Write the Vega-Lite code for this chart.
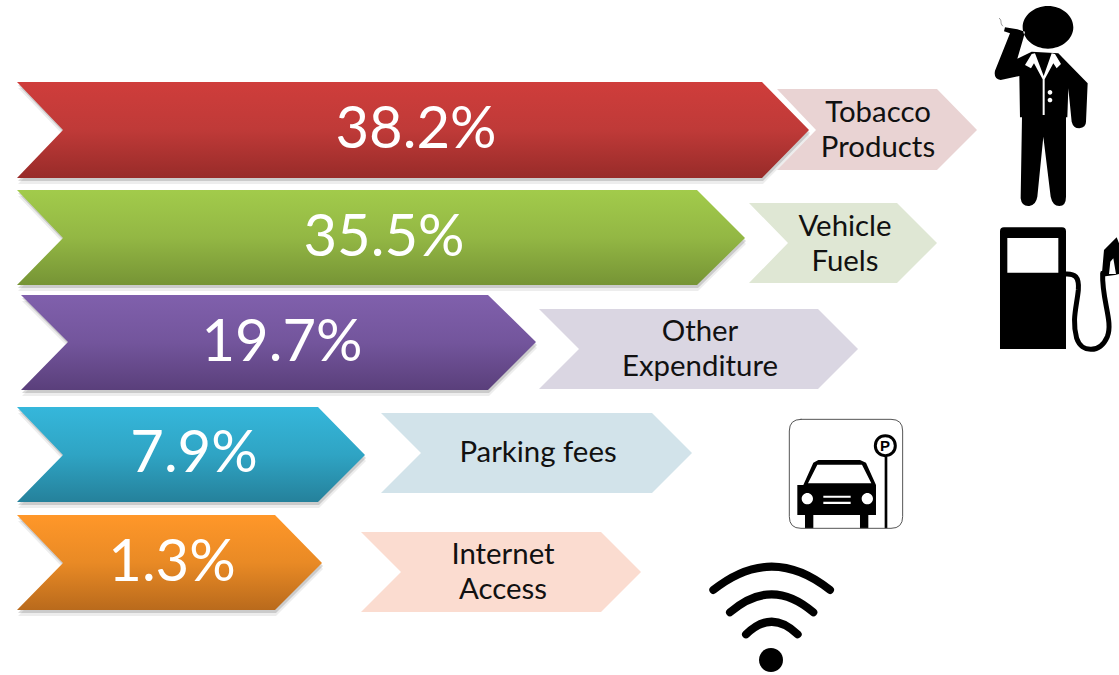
{"$schema":"https://vega.github.io/schema/vega-lite/v6.json","width":1119,"height":675,"padding":0,"autosize":{"type":"fit","contains":"padding"},"background":"white","config":{"view":{"stroke":null}},
"datasets":{"arrows":[
{"s":"red","k":"main","v":1,"x":17,"y":82},{"s":"red","k":"main","v":2,"x":762,"y":82},{"s":"red","k":"main","v":3,"x":809,"y":130},{"s":"red","k":"main","v":4,"x":762,"y":178},{"s":"red","k":"main","v":5,"x":17,"y":178},{"s":"red","k":"main","v":6,"x":63,"y":130},
{"s":"green","k":"main","v":1,"x":17,"y":190},{"s":"green","k":"main","v":2,"x":697,"y":190},{"s":"green","k":"main","v":3,"x":745,"y":238},{"s":"green","k":"main","v":4,"x":697,"y":285},{"s":"green","k":"main","v":5,"x":17,"y":285},{"s":"green","k":"main","v":6,"x":63,"y":238},
{"s":"purple","k":"main","v":1,"x":21,"y":295},{"s":"purple","k":"main","v":2,"x":488,"y":295},{"s":"purple","k":"main","v":3,"x":536,"y":342},{"s":"purple","k":"main","v":4,"x":488,"y":390},{"s":"purple","k":"main","v":5,"x":21,"y":390},{"s":"purple","k":"main","v":6,"x":68,"y":342},
{"s":"blue","k":"main","v":1,"x":17,"y":407},{"s":"blue","k":"main","v":2,"x":318,"y":407},{"s":"blue","k":"main","v":3,"x":365,"y":455},{"s":"blue","k":"main","v":4,"x":318,"y":502},{"s":"blue","k":"main","v":5,"x":17,"y":502},{"s":"blue","k":"main","v":6,"x":63,"y":455},
{"s":"orange","k":"main","v":1,"x":17,"y":515},{"s":"orange","k":"main","v":2,"x":275,"y":515},{"s":"orange","k":"main","v":3,"x":322,"y":563},{"s":"orange","k":"main","v":4,"x":275,"y":610},{"s":"orange","k":"main","v":5,"x":17,"y":610},{"s":"orange","k":"main","v":6,"x":63,"y":563},
{"s":"red","k":"light","v":1,"x":777,"y":89},{"s":"red","k":"light","v":2,"x":937,"y":89},{"s":"red","k":"light","v":3,"x":977,"y":130},{"s":"red","k":"light","v":4,"x":937,"y":170},{"s":"red","k":"light","v":5,"x":777,"y":170},{"s":"red","k":"light","v":6,"x":816,"y":130},
{"s":"green","k":"light","v":1,"x":749,"y":203},{"s":"green","k":"light","v":2,"x":897,"y":203},{"s":"green","k":"light","v":3,"x":937,"y":243},{"s":"green","k":"light","v":4,"x":897,"y":283},{"s":"green","k":"light","v":5,"x":749,"y":283},{"s":"green","k":"light","v":6,"x":788,"y":243},
{"s":"purple","k":"light","v":1,"x":539,"y":309},{"s":"purple","k":"light","v":2,"x":818,"y":309},{"s":"purple","k":"light","v":3,"x":858,"y":349},{"s":"purple","k":"light","v":4,"x":818,"y":389},{"s":"purple","k":"light","v":5,"x":539,"y":389},{"s":"purple","k":"light","v":6,"x":579,"y":349},
{"s":"blue","k":"light","v":1,"x":381,"y":413},{"s":"blue","k":"light","v":2,"x":652,"y":413},{"s":"blue","k":"light","v":3,"x":692,"y":453},{"s":"blue","k":"light","v":4,"x":652,"y":493},{"s":"blue","k":"light","v":5,"x":381,"y":493},{"s":"blue","k":"light","v":6,"x":421,"y":453},
{"s":"orange","k":"light","v":1,"x":361,"y":532},{"s":"orange","k":"light","v":2,"x":601,"y":532},{"s":"orange","k":"light","v":3,"x":641,"y":572},{"s":"orange","k":"light","v":4,"x":601,"y":612},{"s":"orange","k":"light","v":5,"x":361,"y":612},{"s":"orange","k":"light","v":6,"x":401,"y":572}
]},
"encoding":{"x":{"field":"x","type":"quantitative","scale":{"domain":[0,1119],"nice":false,"zero":false},"axis":null},"y":{"field":"y","type":"quantitative","scale":{"domain":[0,675],"nice":false,"zero":false,"reverse":true},"axis":null}},
"resolve":{"scale":{"shape":"independent","fill":"independent","stroke":"independent","strokeWidth":"independent"}},
"layer":[
{"data":{"name":"arrows"},"transform":[{"filter":"datum.k==='light'"}],"mark":{"type":"line","strokeWidth":0,"clip":false},"encoding":{"order":{"field":"v","type":"quantitative"},"detail":{"field":"s"},"fill":{"field":"s","type":"nominal","legend":null,"scale":{"domain":["red","green","purple","blue","orange"],"range":["#E9D3D3","#DFE7D4","#DAD6E2","#D2E3EA","#FBDCD0"]}}}},
{"data":{"name":"arrows"},"transform":[{"filter":"datum.k==='main'"}],"mark":{"type":"line","strokeWidth":0,"fill":"#000000","fillOpacity":0.07,"yOffset":6,"xOffset":1},"encoding":{"order":{"field":"v","type":"quantitative"},"detail":{"field":"s"}}},
{"data":{"name":"arrows"},"transform":[{"filter":"datum.k==='main'"}],"mark":{"type":"line","strokeWidth":0,"fill":"#000000","fillOpacity":0.14,"yOffset":3,"xOffset":1},"encoding":{"order":{"field":"v","type":"quantitative"},"detail":{"field":"s"}}},
{"data":{"name":"arrows"},"transform":[{"filter":"datum.k==='main' && datum.s==='red'"}],"mark":{"type":"line","strokeWidth":0,"fill":{"gradient":"linear","x1":0,"y1":0,"x2":0,"y2":1,"stops":[{"offset":0,"color":"#CF3D3B"},{"offset":0.5,"color":"#BF3A38"},{"offset":1,"color":"#982B29"}]}},"encoding":{"order":{"field":"v","type":"quantitative"}}},
{"data":{"name":"arrows"},"transform":[{"filter":"datum.k==='main' && datum.s==='green'"}],"mark":{"type":"line","strokeWidth":0,"fill":{"gradient":"linear","x1":0,"y1":0,"x2":0,"y2":1,"stops":[{"offset":0,"color":"#A2CB4B"},{"offset":0.5,"color":"#93B744"},{"offset":1,"color":"#769435"}]}},"encoding":{"order":{"field":"v","type":"quantitative"}}},
{"data":{"name":"arrows"},"transform":[{"filter":"datum.k==='main' && datum.s==='purple'"}],"mark":{"type":"line","strokeWidth":0,"fill":{"gradient":"linear","x1":0,"y1":0,"x2":0,"y2":1,"stops":[{"offset":0,"color":"#8060AC"},{"offset":0.5,"color":"#73559C"},{"offset":1,"color":"#5A3F7B"}]}},"encoding":{"order":{"field":"v","type":"quantitative"}}},
{"data":{"name":"arrows"},"transform":[{"filter":"datum.k==='main' && datum.s==='blue'"}],"mark":{"type":"line","strokeWidth":0,"fill":{"gradient":"linear","x1":0,"y1":0,"x2":0,"y2":1,"stops":[{"offset":0,"color":"#35B7DB"},{"offset":0.5,"color":"#2FA4C4"},{"offset":1,"color":"#25819B"}]}},"encoding":{"order":{"field":"v","type":"quantitative"}}},
{"data":{"name":"arrows"},"transform":[{"filter":"datum.k==='main' && datum.s==='orange'"}],"mark":{"type":"line","strokeWidth":0,"fill":{"gradient":"linear","x1":0,"y1":0,"x2":0,"y2":1,"stops":[{"offset":0,"color":"#FF9729"},{"offset":0.5,"color":"#E98A25"},{"offset":1,"color":"#B96A1C"}]}},"encoding":{"order":{"field":"v","type":"quantitative"}}},
{"data":{"values":[{"t":"38.2%","x":416,"y":131},{"t":"35.5%","x":384,"y":239},{"t":"19.7%","x":282,"y":344},{"t":"7.9%","x":194,"y":455},{"t":"1.3%","x":172,"y":564}]},"mark":{"type":"text","font":"Lato","fontSize":58,"color":"white","align":"center","baseline":"middle"},"encoding":{"text":{"field":"t"}}},
{"data":{"values":[{"t":"Tobacco\nProducts","x":878,"y":113},{"t":"Vehicle\nFuels","x":845,"y":227},{"t":"Other\nExpenditure","x":700,"y":332},{"t":"Parking fees","x":538,"y":453},{"t":"Internet\nAccess","x":503,"y":555}]},"mark":{"type":"text","font":"Lato","fontSize":29.4,"color":"#111111","align":"center","baseline":"middle","lineBreak":"\n","lineHeight":34.5},"encoding":{"text":{"field":"t"}}},
{"data":{"values":[{"part":"man","ink":"dark","x":960,"y":0},{"part":"manDetail","ink":"light","x":960,"y":0},{"part":"pump","ink":"dark","x":960,"y":0},{"part":"pumpDetail","ink":"light","x":960,"y":0},{"part":"car","ink":"dark","x":690,"y":400},{"part":"carDetail","ink":"light","x":690,"y":400},{"part":"wifiDot","ink":"dark","x":690,"y":400}]},"mark":{"type":"point","filled":true,"size":0.4444,"opacity":1,"strokeWidth":0},"encoding":{
"fill":{"field":"ink","type":"nominal","legend":null,"scale":{"domain":["dark","light"],"range":["#000000","#ffffff"]}},
"shape":{"field":"part","type":"nominal","legend":null,"scale":{"domain":["man","manDetail","pump","pumpDetail","car","carDetail","wifiDot"],"range":[
"M188,82 C188,47 222,18 264,18 C306,18 340,47 340,82 C340,117 306,146 264,146 C222,146 188,117 188,82 Z M172,88 L135,82 L132,94 L150,100 L105,212 Q100,238 122,240 L178,228 L180,352 L186,352 L182,595 Q185,620 208,618 Q228,615 232,590 L250,410 L272,590 Q278,618 298,618 Q318,618 318,590 L318,352 L322,352 L325,265 L335,365 Q340,385 358,385 Q378,382 378,365 L383,250 L295,160 L215,155 L172,176 L190,115 L195,95 Z",
"M215,162 L195,195 L213,205 L222,190 L248,238 L248,345 L254,345 L254,238 L280,190 L290,205 L303,192 L285,162 L275,160 L251,228 L225,160 Z M263,277 C263,273 266,270 270,270 C274,270 277,273 277,277 C277,281 274,284 270,284 C266,284 263,281 263,277 Z M263,300 C263,296 266,293 270,293 C274,293 277,296 277,300 C277,304 274,307 270,307 C266,307 263,304 263,300 Z",
"M132,682 L306,682 Q318,682 318,694 L318,1047 L120,1047 L120,694 Q120,682 132,682 Z M425,830 L432,750 L470,712 L477,730 L477,822 L465,825 Z",
"M142,714 L295,714 L295,818 L142,818 Z M447,822 L451,785 L460,775 L468,822 Z",
"M340,255 L370,188 L385,180 L510,180 L528,188 L558,255 L558,345 L535,345 L535,385 L510,385 L510,345 L370,345 L370,385 L345,385 L345,345 L322,345 L322,255 Z M584,170 L592,170 L592,385 L584,385 Z",
"M354,250 L382,194 L516,194 L544,250 Z M335,296 C335,287 343,279 352,279 C361,279 369,287 369,296 C369,305 361,313 352,313 C343,313 335,305 335,296 Z M515,296 C515,287 523,279 532,279 C541,279 549,287 549,296 C549,305 541,313 532,313 C523,313 515,305 515,296 Z M400,287 L482,287 L482,293 L400,293 Z M400,305 L482,305 L482,312 L400,312 Z",
"M207,780 C207,760 223,744 243,744 C263,744 279,760 279,780 C279,800 263,816 243,816 C223,816 207,800 207,780 Z"
]}}}},
{"data":{"values":[{"part":"hose","x":960,"y":0},{"part":"smoke","x":960,"y":0},{"part":"frame","x":690,"y":400},{"part":"sign","x":690,"y":400},{"part":"arcOuter","x":690,"y":400},{"part":"arcMiddle","x":690,"y":400},{"part":"arcInner","x":690,"y":400}]},"mark":{"type":"point","filled":false,"size":0.4444,"opacity":1,"strokeCap":"round","strokeJoin":"round"},"encoding":{
"stroke":{"field":"part","type":"nominal","legend":null,"scale":{"domain":["hose","smoke","frame","sign","arcOuter","arcMiddle","arcInner"],"range":["#000000","#999999","#555555","#000000","#000000","#000000","#000000"]}},
"strokeWidth":{"field":"part","type":"nominal","legend":null,"scale":{"type":"ordinal","domain":["hose","smoke","frame","sign","arcOuter","arcMiddle","arcInner"],"range":[5,1,1,3,8,8,8]}},
"shape":{"field":"part","type":"nominal","legend":null,"scale":{"domain":["hose","smoke","frame","sign","arcOuter","arcMiddle","arcInner"],"range":[
"M315,822 C345,820 358,830 355,870 C350,920 335,960 350,1015 C365,1060 420,1060 442,1010 C460,965 425,900 428,820",
"M118,55 C128,62 118,68 128,78",
"M333,58 L603,58 Q638,58 638,93 L638,350 Q638,385 603,385 L333,385 Q298,385 298,350 L298,93 Q298,58 333,58 Z",
"M556,137 C556,120 569,107 586,107 C603,107 616,120 616,137 C616,154 603,167 586,167 C569,167 556,154 556,137 Z",
"M70,570 Q245,430 420,570",
"M120,637 Q245,529 370,637",
"M168,703 Q245,627 323,703"
]}}}},
{"data":{"values":[{"t":"P","x":885,"y":446}]},"mark":{"type":"text","font":"Liberation Sans","fontWeight":"bold","fontSize":15,"color":"#000000","align":"center","baseline":"middle"},"encoding":{"text":{"field":"t"}}}
]}
